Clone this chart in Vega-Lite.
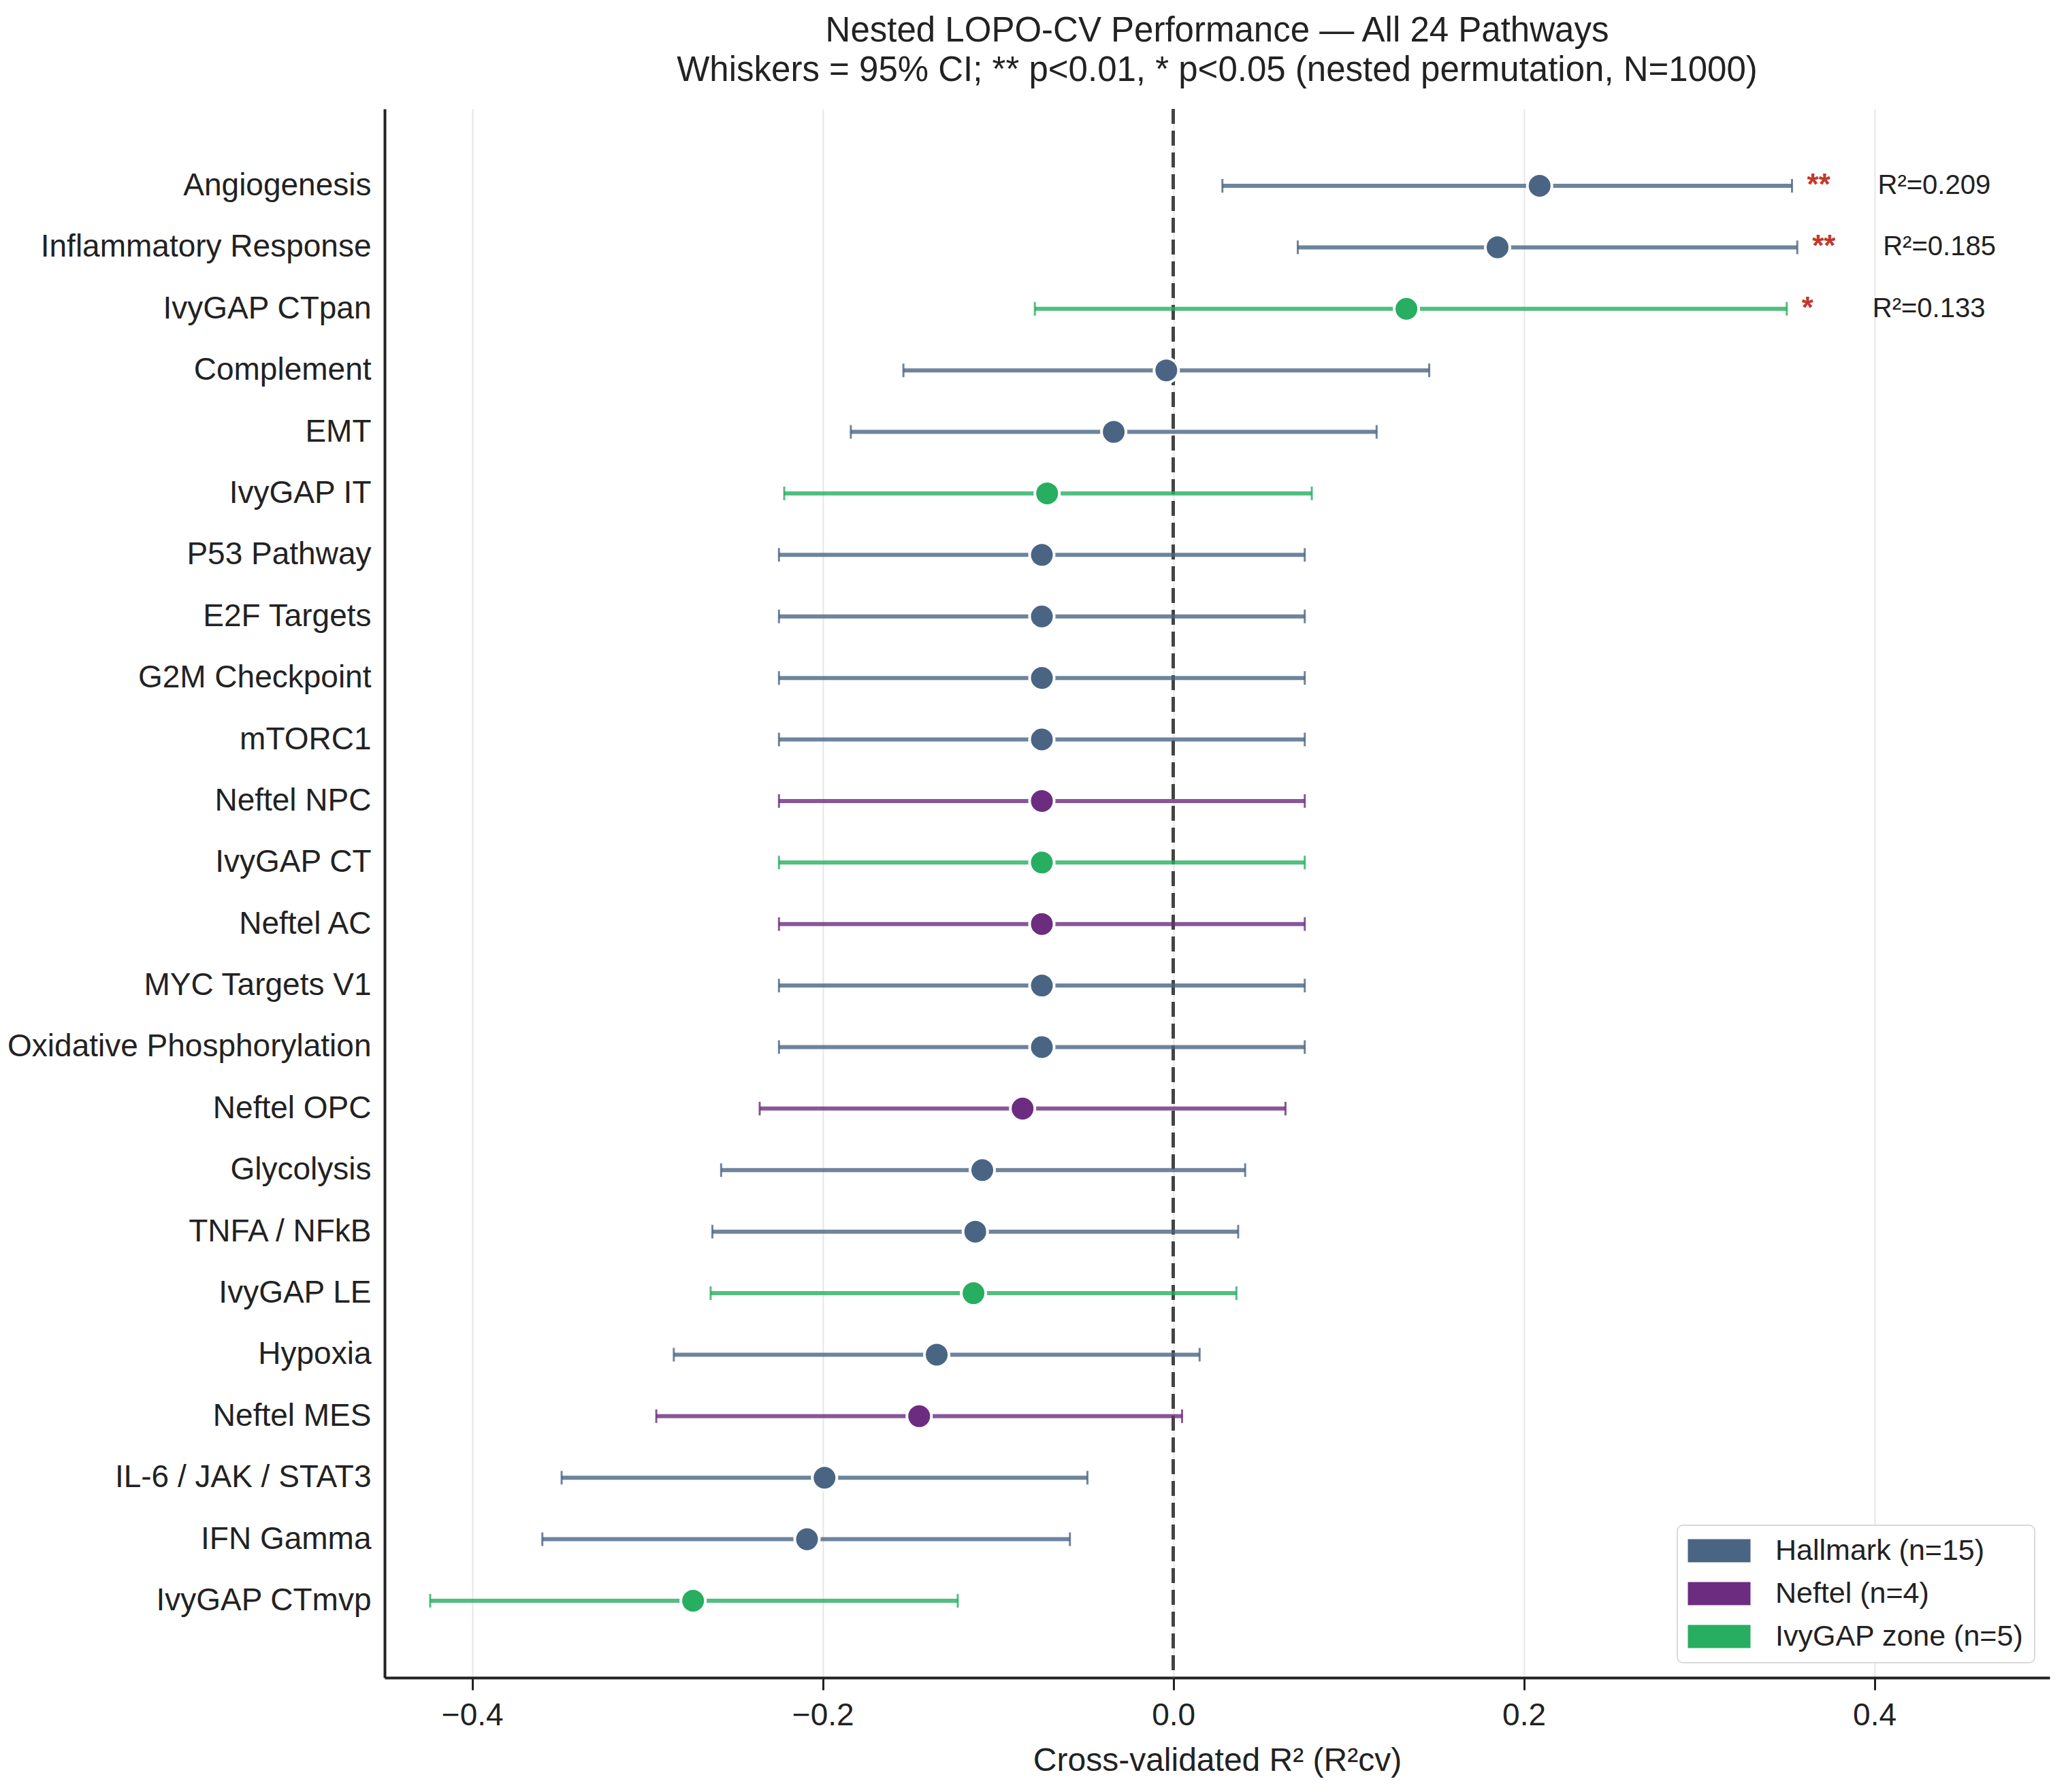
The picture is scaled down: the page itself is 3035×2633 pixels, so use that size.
{
  "$schema": "https://vega.github.io/schema/vega-lite/v6.json",
  "width": 2446,
  "height": 2305,
  "autosize": "none",
  "padding": {"left": 565, "top": 160, "right": 24, "bottom": 168},
  "background": "white",
  "title": {
    "text": [
      "Nested LOPO-CV Performance — All 24 Pathways",
      "Whiskers = 95% CI; ** p<0.01, * p<0.05 (nested permutation, N=1000)"
    ],
    "fontSize": 51,
    "fontWeight": "normal",
    "lineHeight": 58,
    "color": "#222222",
    "anchor": "middle",
    "offset": 28
  },
  "data": {
    "values": [
      {"pathway": "Angiogenesis", "group": "Hallmark (n=15)", "r2": 0.209, "lo": 0.028, "hi": 0.353, "stars": "**", "label": "R²=0.209"},
      {"pathway": "Inflammatory Response", "group": "Hallmark (n=15)", "r2": 0.185, "lo": 0.071, "hi": 0.356, "stars": "**", "label": "R²=0.185"},
      {"pathway": "IvyGAP CTpan", "group": "IvyGAP zone (n=5)", "r2": 0.133, "lo": -0.079, "hi": 0.350, "stars": "*", "label": "R²=0.133"},
      {"pathway": "Complement", "group": "Hallmark (n=15)", "r2": -0.004, "lo": -0.154, "hi": 0.146},
      {"pathway": "EMT", "group": "Hallmark (n=15)", "r2": -0.034, "lo": -0.184, "hi": 0.116},
      {"pathway": "IvyGAP IT", "group": "IvyGAP zone (n=5)", "r2": -0.072, "lo": -0.222, "hi": 0.079},
      {"pathway": "P53 Pathway", "group": "Hallmark (n=15)", "r2": -0.075, "lo": -0.225, "hi": 0.075},
      {"pathway": "E2F Targets", "group": "Hallmark (n=15)", "r2": -0.075, "lo": -0.225, "hi": 0.075},
      {"pathway": "G2M Checkpoint", "group": "Hallmark (n=15)", "r2": -0.075, "lo": -0.225, "hi": 0.075},
      {"pathway": "mTORC1", "group": "Hallmark (n=15)", "r2": -0.075, "lo": -0.225, "hi": 0.075},
      {"pathway": "Neftel NPC", "group": "Neftel (n=4)", "r2": -0.075, "lo": -0.225, "hi": 0.075},
      {"pathway": "IvyGAP CT", "group": "IvyGAP zone (n=5)", "r2": -0.075, "lo": -0.225, "hi": 0.075},
      {"pathway": "Neftel AC", "group": "Neftel (n=4)", "r2": -0.075, "lo": -0.225, "hi": 0.075},
      {"pathway": "MYC Targets V1", "group": "Hallmark (n=15)", "r2": -0.075, "lo": -0.225, "hi": 0.075},
      {"pathway": "Oxidative Phosphorylation", "group": "Hallmark (n=15)", "r2": -0.075, "lo": -0.225, "hi": 0.075},
      {"pathway": "Neftel OPC", "group": "Neftel (n=4)", "r2": -0.086, "lo": -0.236, "hi": 0.064},
      {"pathway": "Glycolysis", "group": "Hallmark (n=15)", "r2": -0.109, "lo": -0.258, "hi": 0.041},
      {"pathway": "TNFA / NFkB", "group": "Hallmark (n=15)", "r2": -0.113, "lo": -0.263, "hi": 0.037},
      {"pathway": "IvyGAP LE", "group": "IvyGAP zone (n=5)", "r2": -0.114, "lo": -0.264, "hi": 0.036},
      {"pathway": "Hypoxia", "group": "Hallmark (n=15)", "r2": -0.135, "lo": -0.285, "hi": 0.015},
      {"pathway": "Neftel MES", "group": "Neftel (n=4)", "r2": -0.145, "lo": -0.295, "hi": 0.005},
      {"pathway": "IL-6 / JAK / STAT3", "group": "Hallmark (n=15)", "r2": -0.199, "lo": -0.349, "hi": -0.049},
      {"pathway": "IFN Gamma", "group": "Hallmark (n=15)", "r2": -0.209, "lo": -0.360, "hi": -0.059},
      {"pathway": "IvyGAP CTmvp", "group": "IvyGAP zone (n=5)", "r2": -0.274, "lo": -0.424, "hi": -0.123}
    ]
  },
  "encoding": {
    "y": {
      "field": "pathway",
      "type": "nominal",
      "sort": null,
      "title": null,
      "scale": {"type": "band", "paddingInner": 0, "paddingOuter": 0.75},
      "axis": {
        "ticks": false,
        "tickSize": 0,
        "labelPadding": 20,
        "labelLimit": 0,
        "labelFontSize": 46,
        "labelColor": "#222222",
        "domainColor": "#222222",
        "domainWidth": 4,
        "grid": false
      }
    }
  },
  "layer": [
    {
      "mark": {"type": "rule", "color": "#444444", "strokeWidth": 4, "strokeDash": [22, 10]},
      "encoding": {"x": {"datum": 0, "type": "quantitative"}, "y": null}
    },
    {
      "mark": {"type": "rule", "strokeWidth": 6, "opacity": 0.8},
      "encoding": {
        "x": {
          "field": "lo",
          "type": "quantitative",
          "title": "Cross-validated R² (R²cv)",
          "scale": {"domain": [-0.45, 0.5], "nice": false, "zero": false},
          "axis": {
            "values": [-0.4, -0.2, 0, 0.2, 0.4],
            "format": ".1f",
            "grid": true,
            "gridColor": "#e6e6e6",
            "gridWidth": 2,
            "tickSize": 18,
            "tickWidth": 3,
            "tickColor": "#222222",
            "domainColor": "#222222",
            "domainWidth": 4,
            "labelFontSize": 46,
            "labelColor": "#222222",
            "labelPadding": 15,
            "titleFontSize": 48,
            "titleFontWeight": "normal",
            "titleColor": "#222222",
            "titlePadding": 20
          }
        },
        "x2": {"field": "hi"},
        "color": {
          "field": "group",
          "type": "nominal",
          "scale": {
            "domain": ["Hallmark (n=15)", "Neftel (n=4)", "IvyGAP zone (n=5)"],
            "range": ["#4a6584", "#6c2d80", "#27ae60"]
          },
          "legend": null
        }
      }
    },
    {
      "mark": {"type": "tick", "thickness": 3, "size": 20, "opacity": 0.8},
      "encoding": {
        "x": {"field": "lo", "type": "quantitative"},
        "color": {"field": "group", "type": "nominal", "legend": null}
      }
    },
    {
      "mark": {"type": "tick", "thickness": 3, "size": 20, "opacity": 0.8},
      "encoding": {
        "x": {"field": "hi", "type": "quantitative"},
        "color": {"field": "group", "type": "nominal", "legend": null}
      }
    },
    {
      "mark": {"type": "point", "shape": "circle", "filled": true, "size": 1300, "opacity": 1, "stroke": "white", "strokeWidth": 4},
      "encoding": {
        "x": {"field": "r2", "type": "quantitative"},
        "color": {
          "field": "group",
          "type": "nominal",
          "legend": {
            "title": null,
            "orient": "bottom-right",
            "offset": 22,
            "labelFontSize": 43,
            "labelColor": "#222222",
            "labelLimit": 0,
            "symbolType": "M-1.1,-0.85H3.5V0.85H-1.1Z",
            "symbolSize": 1600,
            "symbolStrokeWidth": 0,
            "symbolOpacity": 1,
            "labelOffset": 85,
            "padding": 16,
            "rowPadding": 19,
            "fillColor": "white",
            "strokeColor": "#d9d9d9",
            "cornerRadius": 8
          }
        }
      }
    },
    {
      "transform": [{"filter": "datum.stars"}],
      "mark": {"type": "text", "align": "left", "baseline": "middle", "dx": 22, "fontSize": 44, "fontWeight": "bold", "color": "#c0392b"},
      "encoding": {
        "x": {"field": "hi", "type": "quantitative"},
        "text": {"field": "stars"}
      }
    },
    {
      "transform": [{"filter": "datum.label"}],
      "mark": {"type": "text", "align": "left", "baseline": "middle", "dx": 126, "fontSize": 40, "color": "#222222"},
      "encoding": {
        "x": {"field": "hi", "type": "quantitative"},
        "text": {"field": "label"}
      }
    }
  ],
  "resolve": {"legend": {"color": "independent"}},
  "config": {
    "font": "Liberation Sans",
    "view": {"stroke": null},
    "legend": {"strokeWidth": 2}
  }
}
